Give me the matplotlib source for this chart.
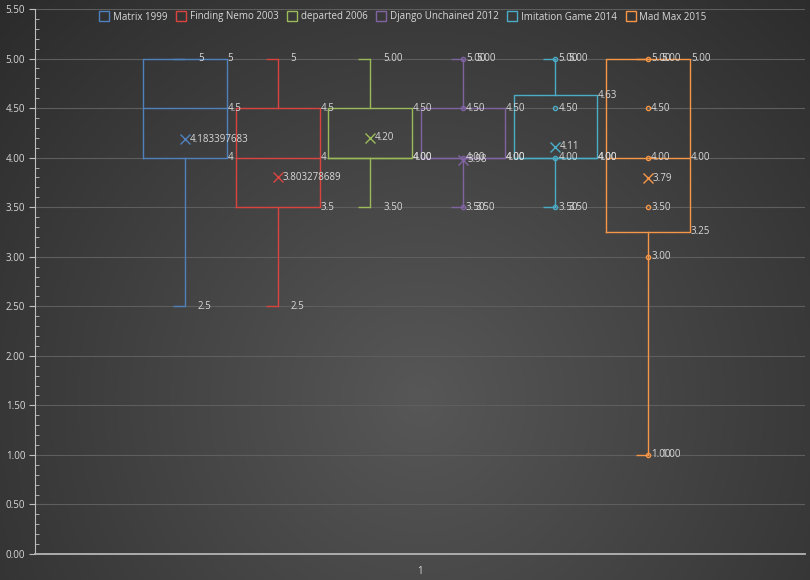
import numpy as np
import matplotlib
matplotlib.use('Agg')
import matplotlib.pyplot as plt
from matplotlib.lines import Line2D

plt.rcParams['font.family'] = ['Open Sans', 'DejaVu Sans']

movies = ['Matrix 1999', 'Finding Nemo 2003', 'departed 2006',
          'Django Unchained 2012', 'Imitation Game 2014', 'Mad Max 2015']
colors = ['#4F81BD', '#D9443F', '#9BBB59', '#8064A2', '#4BACC6', '#F79646']
q1 = [4.0, 3.5, 4.0, 4.0, 4.0, 3.25]
median = [4.5, 4.0, 4.0, 4.0, 4.0, 4.0]
q3 = [5.0, 4.5, 4.5, 4.5, 4.63, 5.0]
whislo = [2.5, 2.5, 3.5, 3.5, 3.5, 1.0]
whishi = [5.0, 5.0, 5.0, 5.0, 5.0, 5.0]
means = [4.183397683, 3.803278689, 4.20, 3.98, 4.11, 3.79]
points = [[], [], [], [5.0, 4.5, 4.0, 3.5], [5.0, 4.5, 4.0, 3.5],
          [5.0, 4.5, 4.0, 3.5, 3.0, 1.0]]
fmts = ['{:.10g}', '{:.10g}', '{:.2f}', '{:.2f}', '{:.2f}', '{:.2f}']

txt = '#D9D9D9'

fig = plt.figure(figsize=(8.1, 5.8), dpi=100)

# dark radial background
bg = fig.add_axes([0, 0, 1, 1], zorder=-10)
yy, xx = np.mgrid[0:580, 0:810]
r = np.sqrt((xx - 420) ** 2 + (yy - 400) ** 2) / 580
r = np.clip(r, 0, 1)
shade = 0x57 - (0x57 - 0x2B) * r
bg.imshow(np.dstack([shade, shade, shade]) / 255, aspect='auto', extent=[0, 1, 0, 1])
bg.axis('off')

ax = fig.add_axes([35 / 810, 1 - 554 / 580, 770 / 810, 545 / 580])
ax.set_facecolor('none')

n = len(movies)
step = 0.1203
width = 0.109
pos = 1 + (np.arange(n) - (n - 1) / 2) * step - 0.0045

stats = []
for i in range(n):
    stats.append({'med': median[i], 'q1': q1[i], 'q3': q3[i],
                  'whislo': whislo[i], 'whishi': whishi[i],
                  'mean': means[i], 'fliers': []})

bp = ax.bxp(stats, positions=pos, widths=width, showcaps=False,
            showfliers=False, showmeans=True, manage_ticks=False)
for i in range(n):
    c = colors[i]
    bp['boxes'][i].set(color=c, lw=1)
    bp['medians'][i].set(color=c, lw=1)
    bp['whiskers'][2 * i].set(color=c, lw=1)
    bp['whiskers'][2 * i + 1].set(color=c, lw=1)
    bp['means'][i].set(marker='x', markeredgecolor=c, markersize=7,
                       markeredgewidth=1, linestyle='')

fs = 7
for i in range(n):
    c = colors[i]
    p = pos[i]
    f = fmts[i]
    # half caps
    ax.hlines([whislo[i], whishi[i]], p - 0.0156, p, color=c, lw=1)
    # inner points
    if points[i]:
        ax.plot([p] * len(points[i]), points[i], 'o', ms=3, mfc='none',
                mec=c, mew=1)
        for v in points[i]:
            ax.text(p + 0.004, v, f.format(v), color=txt, fontsize=fs,
                    va='center', ha='left')
    # whisker labels
    for v in (whislo[i], whishi[i]):
        ax.text(p + 0.017, v, f.format(v), color=txt, fontsize=fs,
                va='center', ha='left')
    # quartile labels
    for v in (q1[i], median[i], q3[i]):
        ax.text(p + width / 2 + 0.001, v, f.format(v), color=txt,
                fontsize=fs, va='center', ha='left')
    # mean label
    ax.text(p + 0.006, means[i], f.format(means[i]), color=txt, fontsize=fs,
            va='center', ha='left')

ax.set_xlim(0.5, 1.5)
ax.set_ylim(0, 5.5)
ax.set_yticks(np.arange(0, 5.51, 0.5))
ax.set_yticks(np.arange(0, 5.51, 0.1), minor=True)
ax.yaxis.set_major_formatter(matplotlib.ticker.FormatStrFormatter('%.2f'))
ax.set_xticks([1])
ax.set_xticklabels(['1'])
ax.tick_params(axis='y', which='major', direction='out', length=4,
               color='#BFBFBF', labelcolor=txt, labelsize=fs, pad=3)
ax.tick_params(axis='y', which='minor', direction='in', length=3,
               color='#BFBFBF')
ax.tick_params(axis='x', length=0, labelcolor=txt, labelsize=fs, pad=9)
ax.grid(axis='y', which='major', color='#5E5E5E', lw=0.8)
ax.set_axisbelow(True)
for s in ('top', 'right'):
    ax.spines[s].set_visible(False)
ax.spines['left'].set_color('#BFBFBF')
ax.spines['bottom'].set_color('#B5B5B5')
ax.spines['bottom'].set_linewidth(1.3)

handles = [Line2D([], [], marker='s', ls='', mfc='none', mec=c, ms=7, mew=1)
           for c in colors]
leg = fig.legend(handles, movies, loc='center', bbox_to_anchor=(403 / 810, 1 - 17 / 580),
                 ncol=n, frameon=False, fontsize=fs, handlelength=1.0,
                 handletextpad=0.4, columnspacing=0.9)
for t in leg.get_texts():
    t.set_color(txt)

fig.savefig('out.png', dpi=100)
